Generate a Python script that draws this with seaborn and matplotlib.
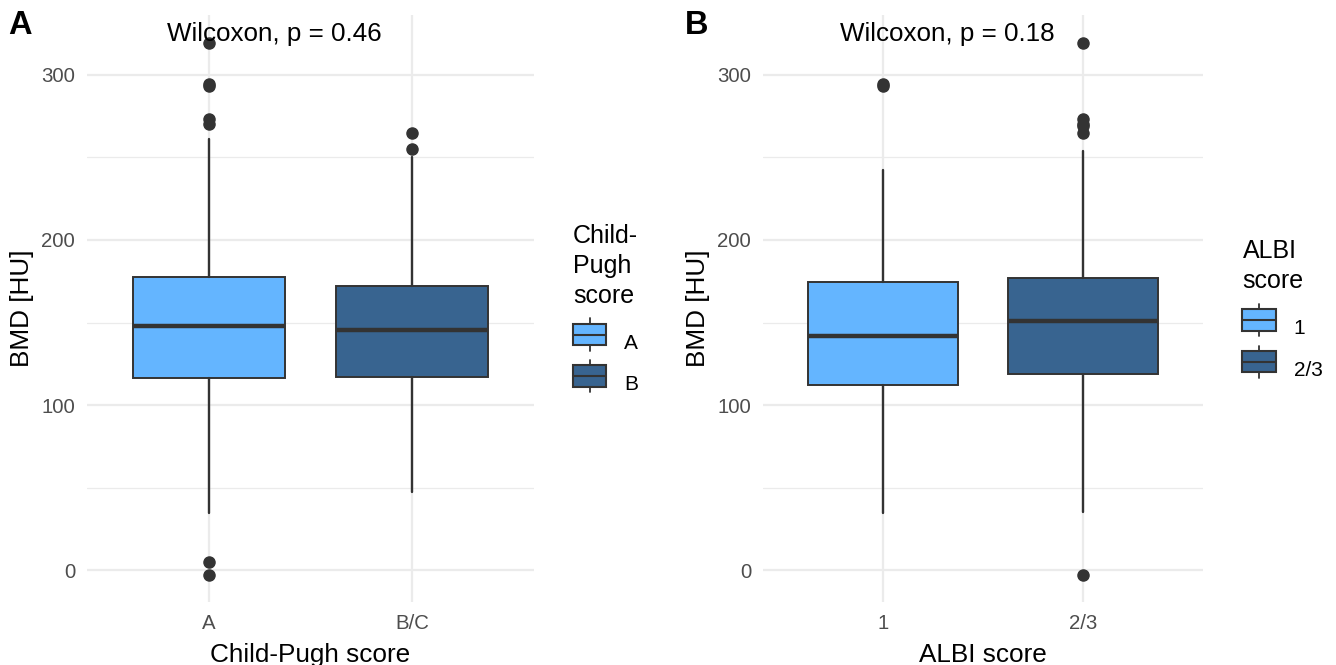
import matplotlib
matplotlib.use("Agg")
import matplotlib.pyplot as plt
import seaborn as sns
from matplotlib.patches import Rectangle
from matplotlib.lines import Line2D
from matplotlib.legend_handler import HandlerBase

# Panel A: Child-Pugh score
cp_groups = ["A", "B/C"]
cp_legend = ["A", "B"]
cp_q1 = [116.5, 117.0]
cp_med = [148.0, 145.5]
cp_q3 = [177.5, 172.0]
cp_lo = [34.5, 47.5]
cp_hi = [261.0, 250.5]
cp_out = [[319.5, 294.7, 293.5, 273.5, 270.5, 4.8, -3.0], [265.0, 255.0]]

# Panel B: ALBI score
albi_groups = ["1", "2/3"]
albi_legend = ["1", "2/3"]
albi_q1 = [112.3, 119.0]
albi_med = [142.0, 151.0]
albi_q3 = [174.5, 177.0]
albi_lo = [34.5, 35.6]
albi_hi = [242.5, 254.0]
albi_out = [[294.7, 293.5], [319.5, 273.0, 270.5, 269.0, 265.0, -3.0]]

pvals = ["0.46", "0.18"]
colors = ["#64B5FF", "#386490"]
edge = "#333333"

sns.set_theme(style="whitegrid")
plt.rcParams["font.family"] = ["Liberation Sans", "DejaVu Sans"]


class BoxKey(HandlerBase):
    def create_artists(self, legend, orig, xd, yd, w, h, fs, trans):
        fc = orig.get_facecolor()
        cx = xd + w / 2
        whisk = Line2D([cx, cx], [yd - 0.25 * h, yd + 1.25 * h], color=edge, lw=1.3, transform=trans)
        box = Rectangle((xd, yd), w, h, facecolor=fc, edgecolor=edge, lw=1.5, transform=trans)
        med = Line2D([xd, xd + w], [yd + h / 2, yd + h / 2], color=edge, lw=1.5, transform=trans)
        return [whisk, box, med]


def panel(ax, groups, q1, med, q3, lo, hi, out, xlabel, pval):
    stats = []
    for i in range(len(groups)):
        stats.append(dict(q1=q1[i], med=med[i], q3=q3[i], whislo=lo[i], whishi=hi[i], fliers=out[i]))
    bp = ax.bxp(stats, positions=[1, 2], widths=0.75, patch_artist=True, showcaps=False,
                boxprops=dict(edgecolor=edge, linewidth=1.4),
                medianprops=dict(color=edge, linewidth=3.2),
                whiskerprops=dict(color=edge, linewidth=1.7),
                flierprops=dict(marker="o", markerfacecolor=edge, markeredgecolor=edge, markersize=8))
    for patch, c in zip(bp["boxes"], colors):
        patch.set_facecolor(c)
        patch.set_zorder(2)
    ax.set_xlim(0.4, 2.6)
    ax.set_ylim(-19.2, 336.2)
    ax.set_xticks([1, 2])
    ax.set_xticklabels(groups)
    ax.set_yticks([0, 100, 200, 300])
    ax.set_yticks([50, 150, 250], minor=True)
    ax.grid(which="major", color="#EBEBEB", linewidth=1.6)
    ax.grid(which="minor", axis="y", color="#EBEBEB", linewidth=0.9)
    ax.set_axisbelow(True)
    sns.despine(ax=ax, left=True, bottom=True)
    ax.tick_params(axis="both", which="both", length=0, labelsize=14.7, labelcolor="#4D4D4D")
    ax.tick_params(axis="y", pad=8.5)
    ax.tick_params(axis="x", pad=8.5)
    ax.set_xlabel(xlabel, fontsize=18.8, color="black", labelpad=7)
    ax.set_ylabel("BMD [HU]", fontsize=18.8, color="black", labelpad=5)
    # p-value label, centred a bit left of the panel middle
    ax.text(0.4 + 0.42 * 2.2, 325, "Wilcoxon, p = " + pval, fontsize=18.7, color="black",
            ha="center", va="center")


fig = plt.figure(figsize=(13.36, 6.65), dpi=100)
axA = fig.add_axes([0.0651, 0.0947, 0.3346, 0.8827])
axB = fig.add_axes([0.5711, 0.0947, 0.3293, 0.8827])

panel(axA, cp_groups, cp_q1, cp_med, cp_q3, cp_lo, cp_hi, cp_out, "Child-Pugh score", pvals[0])
panel(axB, albi_groups, albi_q1, albi_med, albi_q3, albi_lo, albi_hi, albi_out, "ALBI score", pvals[1])

fig.text(0.0065, 0.9617, "A", fontsize=23.5, fontweight="bold", color="black", ha="left", va="center")
fig.text(0.5125, 0.9617, "B", fontsize=23.5, fontweight="bold", color="black", ha="left", va="center")


def add_legend(x, y, title, labels):
    handles = [Rectangle((0, 0), 1, 1, facecolor=c) for c in colors]
    leg = fig.legend(handles, labels, title=title, loc="upper left", bbox_to_anchor=(x, y),
                     frameon=False, fontsize=15, title_fontsize=18, handler_map={Rectangle: BoxKey()},
                     handlelength=1.6, handleheight=1.2, labelspacing=0.95, handletextpad=0.85,
                     alignment="left", borderaxespad=0, borderpad=0)
    leg.get_title().set_linespacing(1.3)
    leg.get_title().set_color("black")
    for t in leg.get_texts():
        t.set_color("black")
    leg._legend_box.sep = 17
    return leg


add_legend(0.429, 0.663, "Child-\nPugh\nscore", cp_legend)
add_legend(0.930, 0.640, "ALBI\nscore", albi_legend)

fig.savefig("out.png", dpi=100)
